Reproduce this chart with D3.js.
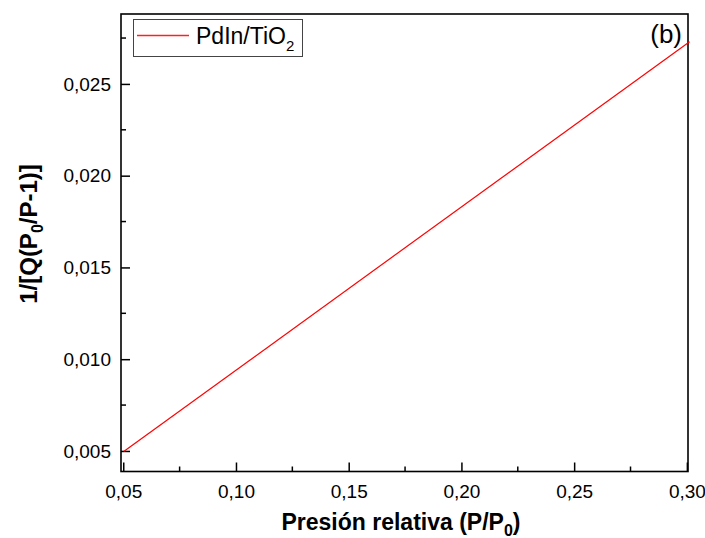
<!DOCTYPE html>
<html>
<head>
<meta charset="utf-8">
<script src="https://cdn.jsdelivr.net/npm/d3@7"></script>
<style>
  body { margin: 0; background: #fff; }
  text { font-family: "Liberation Sans", Arial, sans-serif; fill: #000; }
</style>
</head>
<body>
<svg id="chart" width="705" height="538"></svg>
<script>
// data
var seriesName = "PdIn/TiO";
var presionRel = [0.0502, 0.3012];
var invQ = [0.00497, 0.0273];
var xTicks = [0.05, 0.10, 0.15, 0.20, 0.25, 0.30];
var yTicks = [0.005, 0.010, 0.015, 0.020, 0.025];
var xMinor = [0.075, 0.125, 0.175, 0.225, 0.275];
var yMinor = [0.0075, 0.0125, 0.0175, 0.0225, 0.0275];

var margin = { top: 14, right: 17, bottom: 66.5, left: 121 };
var svgWidth = 705, svgHeight = 538;
var width = svgWidth - margin.left - margin.right;
var height = svgHeight - margin.top - margin.bottom;

var x = d3.scaleLinear().domain([0.049, 0.3005]).range([0, width]);
var y = d3.scaleLinear().domain([0.00388, 0.02881]).range([height, 0]);

var svg = d3.select("#chart");
var g = svg.append("g").attr("transform", "translate(" + [margin.left, margin.top] + ")");

// minor ticks (inward)
g.selectAll(".xminor").data(xMinor).enter().append("line")
  .attr("x1", function (d) { return x(d); }).attr("x2", function (d) { return x(d); })
  .attr("y1", height).attr("y2", height - 5)
  .attr("stroke", "#000").attr("stroke-width", 1.5);
g.selectAll(".yminor").data(yMinor).enter().append("line")
  .attr("y1", function (d) { return y(d); }).attr("y2", function (d) { return y(d); })
  .attr("x1", 0).attr("x2", 5)
  .attr("stroke", "#000").attr("stroke-width", 1.5);

// axes
var xAxis = g.append("g").attr("transform", "translate(0," + height + ")")
  .call(d3.axisBottom(x).tickValues(xTicks).tickSizeInner(-9).tickSizeOuter(0).tickPadding(9)
    .tickFormat(function (d) { return d.toFixed(2).replace(".", ","); }));
var yAxis = g.append("g")
  .call(d3.axisLeft(y).tickValues(yTicks).tickSizeInner(-9).tickSizeOuter(0).tickPadding(10)
    .tickFormat(function (d) { return d.toFixed(3).replace(".", ","); }));

[xAxis, yAxis].forEach(function (a) {
  a.select(".domain").remove();
  a.selectAll(".tick line").attr("stroke", "#000").attr("stroke-width", 1.5);
  a.selectAll(".tick text").attr("fill", "#000").style("font-size", "19px")
    .style("font-family", "'Liberation Sans', Arial, sans-serif");
});
xAxis.selectAll(".tick text").attr("dy", "0.9em");

// frame
g.append("rect").attr("width", width).attr("height", height)
  .attr("fill", "none").attr("stroke", "#000").attr("stroke-width", 1.6);

// line
g.append("path")
  .datum(d3.zip(presionRel, invQ))
  .attr("fill", "none").attr("stroke", "#ff0000").attr("stroke-width", 1.2)
  .attr("d", d3.line().x(function (d) { return x(d[0]); }).y(function (d) { return y(d[1]); }));

// legend
var legend = g.append("g").attr("transform", "translate(12,5)");
legend.append("rect").attr("x", 0.5).attr("y", 0.5).attr("width", 169).attr("height", 37)
  .attr("fill", "#fff").attr("stroke", "#444").attr("stroke-width", 1);
legend.append("line").attr("x1", 4).attr("x2", 56).attr("y1", 16.5).attr("y2", 16.5)
  .style("stroke", "#ff2020").style("stroke-width", 1.3);
var lt = legend.append("text").attr("x", 63).attr("y", 24.5).style("font-size", "23px");
lt.append("tspan").text(seriesName);
lt.append("tspan").style("font-size", "15px").attr("dy", 7).text("2");

// panel tag
g.append("text").attr("x", width - 6).attr("y", 29).attr("text-anchor", "end")
  .style("font-size", "26px").text("(b)");

// x title
var xt = svg.append("text").attr("x", 401).attr("y", 530).attr("text-anchor", "middle")
  .style("font-size", "23px").attr("font-weight", "bold");
xt.append("tspan").text("Presión relativa (P/P");
xt.append("tspan").style("font-size", "16px").attr("dy", 6).text("0");
xt.append("tspan").attr("dy", -6).text(")");

// y title
var yt = svg.append("text").attr("transform", "translate(37,234) rotate(-90)").attr("text-anchor", "middle")
  .style("font-size", "24px").attr("font-weight", "bold");
yt.append("tspan").text("1/[Q(P");
yt.append("tspan").style("font-size", "16px").attr("dy", 6).text("0");
yt.append("tspan").attr("dy", -6).text("/P-1)]");
</script>
</body>
</html>
